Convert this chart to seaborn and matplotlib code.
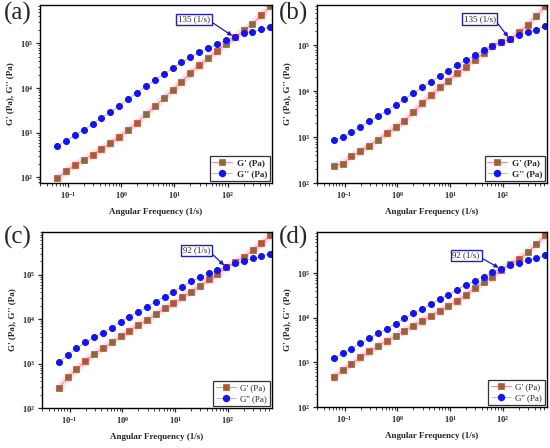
import numpy as np
import pandas as pd
import matplotlib
matplotlib.use("Agg")
import matplotlib.pyplot as plt
import seaborn as sns
from matplotlib.lines import Line2D
from matplotlib.ticker import LogLocator, NullFormatter

# angular frequency (1/s), 6 points per decade
freq = [0.0628, 0.0922, 0.135, 0.199, 0.292, 0.428, 0.628, 0.922, 1.35, 1.99,
        2.92, 4.28, 6.28, 9.22, 13.5, 19.9, 29.2, 42.8, 62.8, 92.2,
        135, 199, 292, 428, 628]

# storage modulus G' (Pa)
gp_a = [95, 136, 190, 250, 325, 440, 585, 810, 1170, 1680, 2560, 3900, 5860, 9000,
        13800, 21500, 32500, 46600, 68000, 96000, 136000, 194000, 275000, 420000, 680000]
gp_b = [240, 265, 380, 500, 655, 885, 1200, 1650, 2250, 3500, 5500, 8200, 12100, 16900,
        24600, 34000, 47800, 67000, 94000, 120000, 135000, 190000, 280000, 425000, 700000]
gp_c = [280, 490, 740, 1160, 1640, 2240, 3000, 4100, 5500, 7500, 9500, 13000, 17500, 22600,
        31000, 42000, 56400, 78500, 103000, 146000, 190000, 254000, 360000, 507000, 780000]
gp_d = [470, 680, 945, 1290, 1760, 2360, 3050, 3960, 5140, 6650, 8600, 11200, 14500, 18700,
        24300, 33000, 46000, 63000, 84000, 121000, 157000, 210000, 296000, 441000, 710000]

# loss modulus G'' (Pa)
gpp_a = [500, 650, 870, 1170, 1590, 2180, 2930, 4000, 5640, 7860, 10900, 14900, 20800, 27800,
         37300, 49000, 62800, 78000, 96000, 117000, 136000, 170000, 180000, 205000, 235000]
gpp_b = [850, 1010, 1300, 1670, 2190, 2850, 3750, 4970, 6700, 8900, 12100, 16200, 20900, 28000,
         36600, 47800, 60400, 79000, 97000, 117000, 135000, 170000, 190000, 217000, 265000]
gpp_c = [1070, 1580, 2200, 3000, 3900, 5000, 6500, 8800, 11400, 14700, 19000, 25000, 32000, 41500,
         54000, 71000, 87000, 107000, 127000, 150000, 180000, 200000, 235000, 260000, 300000]
gpp_d = [1240, 1610, 2050, 2700, 3450, 4460, 5600, 7400, 9700, 12600, 15800, 20400, 26000, 33000,
         43000, 55000, 68500, 84000, 105000, 126000, 149000, 168000, 193000, 218000, 250000]

panels = ["(a)", "(b)", "(c)", "(d)"]
crossover = [135, 135, 92, 92]
cross_val = [136000, 135000, 148000, 124000]
cross_text = ["135 (1/s)", "135 (1/s)", "92 (1/s)", "92 (1/s)"]
ylims = [(75, 7.2e5), (100, 7.5e5), (100, 9.2e5), (100, 8.4e5)]

sns.set_style("ticks")
plt.rcParams['font.family'] = ['Liberation Serif', 'DejaVu Serif']
plt.rcParams['mathtext.fontset'] = 'custom'
plt.rcParams['mathtext.rm'] = 'Liberation Serif:bold'
plt.rcParams['mathtext.bf'] = 'Liberation Serif:bold'
plt.rcParams['mathtext.it'] = 'Liberation Serif:bold'

gp_all = [gp_a, gp_b, gp_c, gp_d]
gpp_all = [gpp_a, gpp_b, gpp_c, gpp_d]

# axes boxes in pixels: left, top, right, bottom
boxes = [(40, 5, 272, 183), (317, 5, 547, 183), (42, 232, 272, 408), (317, 232, 547, 407)]
ann_pos = [(0.664, 0.919), (0.707, 0.92), (0.672, 0.895), (0.648, 0.866)]
label_pos = [(4, 2), (279, 2), (4, 226), (279, 226)]

W, H = 550, 448
fig = plt.figure(figsize=(5.5, 4.48), dpi=100)

sq_face = "#8a6a3a"
sq_edge = "#e5402f"
circ = "#1414f0"

for i in range(4):
    l, t, r, b = boxes[i]
    ax = fig.add_axes([l / W, 1 - b / H, (r - l) / W, (b - t) / H])
    df = pd.DataFrame({"freq": freq, "gp": gp_all[i], "gpp": gpp_all[i]})

    sns.lineplot(data=df, x="freq", y="gp", ax=ax, color="#ffc4d8", linewidth=5,
                 alpha=0.55, sort=False)
    sns.lineplot(data=df, x="freq", y="gp", ax=ax, color="#f07a8a", linewidth=0.6,
                 marker="s", markersize=4, markerfacecolor=sq_face,
                 markeredgecolor=sq_edge, markeredgewidth=0.5, sort=False)
    sns.lineplot(data=df, x="freq", y="gpp", ax=ax, color="#8080e0", linewidth=0.4,
                 marker="o", markersize=4.3, markerfacecolor=circ,
                 markeredgecolor=circ, sort=False)

    ax.set_xscale("log")
    ax.set_yscale("log")
    ax.set_xlim(0.03, 680)
    ax.set_ylim(*ylims[i])
    ax.yaxis.set_minor_locator(LogLocator(base=10, subs=np.arange(2, 10), numticks=20))
    ax.yaxis.set_minor_formatter(NullFormatter())
    ax.xaxis.set_minor_formatter(NullFormatter())

    ax.tick_params(which="major", direction="out", length=3, width=0.9, labelsize=6, pad=2)
    ax.tick_params(which="minor", direction="out", length=1.8, width=0.6)
    for lab in ax.get_xticklabels() + ax.get_yticklabels():
        lab.set_fontweight("bold")
    for s in ax.spines.values():
        s.set_linewidth(1.0)
        s.set_color("black")

    ax.set_xlabel("Angular Frequency (1/s)", fontsize=6.5, fontweight="bold", labelpad=5)
    ax.set_ylabel("G' (Pa), G'' (Pa)", fontsize=6.5, fontweight="bold", labelpad=4)

    ax.annotate(cross_text[i], xy=(crossover[i], cross_val[i]), xycoords="data",
                xytext=ann_pos[i], textcoords="axes fraction", ha="center", va="center",
                fontsize=6.5,
                bbox=dict(boxstyle="square,pad=0.2", fc="white", ec="#2020c0", lw=1.0),
                arrowprops=dict(arrowstyle="-|>", color="#1a1ad0", lw=0.9,
                                mutation_scale=6, shrinkA=0, shrinkB=2,
                                relpos=(1.0, 0.3)))

    weight = "bold" if i < 2 else "normal"
    handles = [
        Line2D([], [], color="#f07a8a", lw=0.6, marker="s", markersize=4,
               markerfacecolor=sq_face, markeredgecolor=sq_edge, markeredgewidth=0.5),
        Line2D([], [], color="#8080e0", lw=0.4, marker="o", markersize=4.3,
               markerfacecolor=circ, markeredgecolor=circ),
    ]
    leg = ax.legend(handles, ["G' (Pa)", "G'' (Pa)"], loc="lower right",
                    prop={"weight": weight, "size": 6.5},
                    frameon=True, fancybox=False, edgecolor="black",
                    borderaxespad=0.25, handlelength=2.2, borderpad=0.3,
                    labelspacing=0.3, handletextpad=0.5)
    leg.get_frame().set_linewidth(0.9)

    fig.text(label_pos[i][0] / W, 1 - label_pos[i][1] / H, panels[i],
             fontsize=18, va="top", ha="left")

fig.savefig("out.png", dpi=100)
